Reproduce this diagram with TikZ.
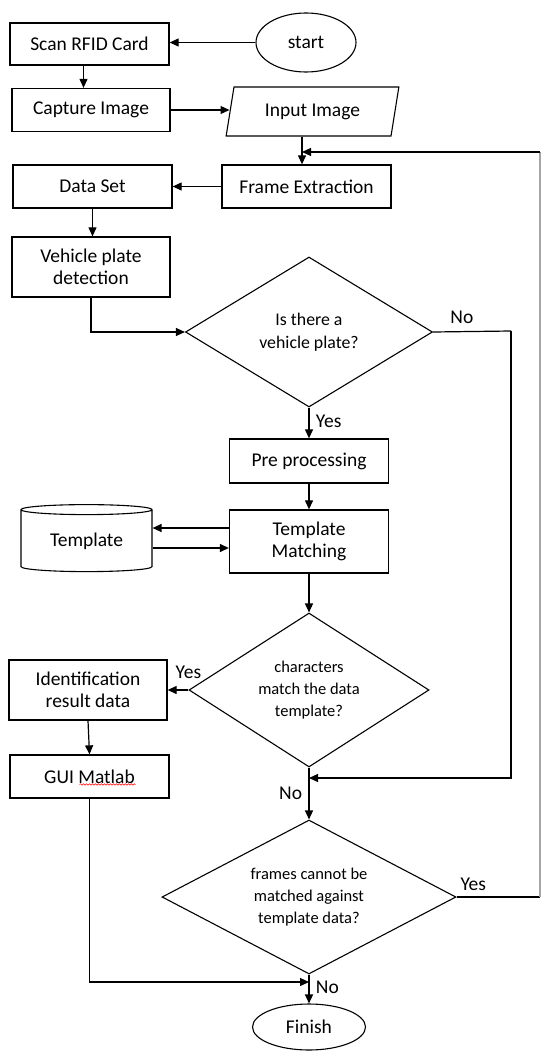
\documentclass[tikz,border=0pt]{standalone}
\usepackage{fontspec}
\setmainfont{Carlito}
\usetikzlibrary{arrows.meta,shapes.geometric,decorations.pathmorphing,positioning}

\begin{document}
\begin{tikzpicture}[x=1pt, y=-1pt,
    box/.style={draw, line width=1.3pt, align=center, inner sep=2pt, font=\fontsize{19.5}{22.5}\selectfont},
    decision/.style={draw, diamond, line width=1.1pt, align=center, inner sep=0pt, font=\fontsize{16.5}{22}\selectfont},
    term/.style={draw, ellipse, line width=1.1pt, inner sep=0pt, font=\fontsize{19.5}{22.5}\selectfont},
    flow/.style={line width=1.2pt, -{Triangle[length=9pt, width=8pt]}},
    link/.style={line width=1.2pt},
    lbl/.style={font=\fontsize{19.5}{22.5}\selectfont}]
        \useasboundingbox (0,0) rectangle (542,1051);

        % Top part: card, image, frames
        \node[term, minimum width=100, minimum height=59] (start) at (306,42.5) {start};
        \node[box, minimum width=159, minimum height=42] (scan) at (89.5,44) {Scan RFID Card};
        \node[box, minimum width=158, minimum height=43] (capture) at (91,110) {Capture Image};
        \node[box, trapezium, trapezium left angle=76, trapezium right angle=104, trapezium stretches=true,
              line width=1.1pt, minimum width=173, minimum height=49] (input) at (312.5,111.5) {Input Image};
        \node[box, minimum width=169, minimum height=43] (frame) at (306.5,186.5) {Frame Extraction};
        \node[box, minimum width=159, minimum height=43] (dataset) at (92.5,186.5) {Data Set};
        \node[box, minimum width=158, minimum height=60] (vehicle) at (91,267) {Vehicle plate\\detection};

        % Main column
        \node[decision, minimum width=247, minimum height=150, aspect=1.65, font=\fontsize{17.8}{23}\selectfont] (plate) at (309,332) {Is there a\\vehicle plate?};
        \node[box, minimum width=159, minimum height=44] (prep) at (309,461) {Pre processing};
        \node[box, minimum width=159, minimum height=63] (match) at (309,541.5) {Template\\Matching};
        \node[box, cylinder, shape border rotate=90, aspect=0.13, line width=1.1pt,
              minimum width=131, minimum height=67] (tmpl) at (86.5,541.5) {Template};
        \node[decision, minimum width=240, minimum height=154, aspect=1.56] (chars) at (309,690) {characters\\match the data\\template?};
        \node[box, minimum width=158, minimum height=60] (ident) at (88,690) {Identification\\result data};
        \node[box, minimum width=159, minimum height=43] (gui) at (89.5,776.5) {GUI Matlab};
        \node[decision, minimum width=294, minimum height=154, aspect=1.9] (frames) at (309,897) {frames cannot be\\matched against\\template data?};
        \node[term, minimum width=113, minimum height=46] (finish) at (309,1027) {Finish};

        % spell-check mark under Matlab
        \draw[red, line width=0.5pt, decorate, decoration={snake, amplitude=0.8pt, segment length=3pt}]
            ([xshift=-10, yshift=-8]gui.center) -- ([xshift=46, yshift=-8]gui.center);

        % Joints of the loops
        \coordinate (join1) at (302,152);
        \coordinate (loopTop) at (540,152);
        \coordinate (noRight) at (511,331);
        \coordinate (join2) at (309,778);
        \coordinate (join3) at (309,982);

        % Arrows, top part
        \draw[flow] (start.west) -- (start.west -| scan.east);
        \draw[flow] ([xshift=-6]scan.south) -- ([xshift=-6]scan.south |- capture.north);
        \draw[flow] (capture.east) -- (capture.east -| input.west);
        \draw[flow] (input.south -| join1) -- (join1 |- frame.north);
        \draw[flow] (frame.west) -- (dataset.east);
        \draw[flow] (dataset.south) -- (dataset.south |- vehicle.north);
        \draw[flow] (vehicle.south) |- (plate.west);

        % Arrows, main column
        \draw[flow] (plate.south) -- (prep.north) node[lbl, pos=0.45, right=3pt] {Yes};
        \draw[flow] (prep.south) -- (match.north);
        \draw[flow] ([yshift=13.5]match.west) -- ([yshift=13.5]match.west -| tmpl.east);
        \draw[flow] ([yshift=-6.5]match.west -| tmpl.east) -- ([yshift=-6.5]match.west);
        \draw[flow] (match.south) -- (chars.north);
        \draw[flow] (chars.west) -- (chars.west -| ident.east) node[lbl, pos=0, above=7pt] {Yes};
        \draw[flow] (ident.south) -- (gui.north);
        \draw[flow] (chars.south) -- (frames.north) node[lbl, pos=0.5, left=3pt] {No};
        \draw[flow] (gui.south) |- (join3);
        \draw[flow] (frames.south) -- (finish.north) node[lbl, pos=0.45, right=3pt] {No};

        % Loops back
        \draw[link] (plate.east) -- (noRight) node[lbl, pos=0.37, above=4pt] {No};
        \draw[flow] (noRight) |- (join2);
        \draw[link] (frames.east) -- (frames.east -| loopTop) node[lbl, pos=0.2, above=2pt] {Yes};
        \draw[link, black!35] (frames.east -| loopTop) -- (loopTop);
        \draw[flow] (loopTop) -- (join1);

    \end{tikzpicture}
\end{document}
